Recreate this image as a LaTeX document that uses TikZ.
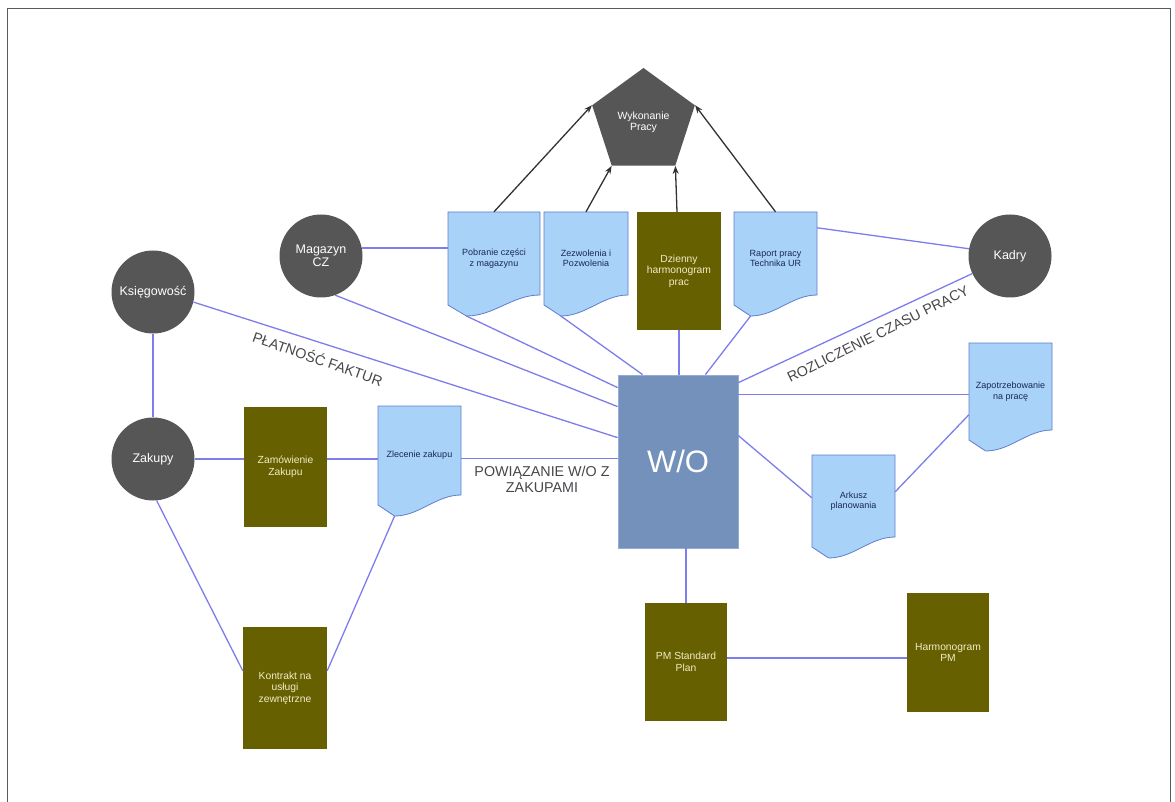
\documentclass[tikz,border=0pt]{standalone}
\usepackage{fontspec}
\setmainfont{Liberation Sans}
\usetikzlibrary{arrows.meta,calc,shapes.geometric}
\definecolor{circgray}{RGB}{86,86,86}
\definecolor{olivefill}{RGB}{103,96,0}
\definecolor{docfill}{RGB}{168,210,248}
\definecolor{docline}{RGB}{95,125,205}
\definecolor{wofill}{RGB}{115,145,186}
\definecolor{woline}{RGB}{150,172,212}
\definecolor{connc}{RGB}{125,125,235}
\definecolor{arrowc}{RGB}{50,50,50}
\definecolor{doctxt}{RGB}{25,40,85}
\definecolor{olivetxt}{RGB}{240,236,200}
\definecolor{labeltxt}{RGB}{70,70,75}
\definecolor{framec}{RGB}{90,90,90}
\tikzset{
  circ/.style={circle, fill=circgray, minimum size=83pt, inner sep=0pt, text=white,
    font=\fontsize{12.5}{13}\selectfont, align=center},
  obox/.style={rectangle, fill=olivefill, text=olivetxt, inner sep=0pt,
    font=\fontsize{10.3}{11.5}\selectfont, align=center},
  docshape/.style={fill=docfill, draw=docline, line width=0.8pt},
  doctext/.style={rectangle, inner sep=0pt, text=doctxt,
    font=\fontsize{9}{10.5}\selectfont, align=center},
  conn/.style={draw=connc, line width=1.3pt},
  arr/.style={draw=arrowc, line width=1.3pt, -{Stealth[length=8pt,width=6pt]}},
  lbl/.style={text=labeltxt, font=\fontsize{14.3}{16}\selectfont, align=center, inner sep=0pt},
}
\newcommand{\docbox}[6]{%
  \draw[docshape] (#2,#3) -- (#4,#3) -- (#4,{#5-10})
    .. controls ({#4-0.3*(#4-#2)},{#5-10}) and ({#2+0.5*(#4-#2)},{#5+11}) ..
    ({#2+0.2*(#4-#2)},{#5+11}) -- (#2,#5) -- cycle;
  \coordinate (#1-low) at ({#2+0.2*(#4-#2)},{#5+11});
  \node[doctext, minimum width={(#4-#2)*1pt}, minimum height={(#5-#3)*1pt}] (#1)
    at ({(#2+#4)/2},{(#3+#5)/2}) {#6};
}
\begin{document}
\begin{tikzpicture}[x=1pt,y=-1pt]
\useasboundingbox (0,0) rectangle (1175,802);
\draw[framec, line width=1pt] (7,802) -- (7,9) -- (1170,9) -- (1170,802);

% pentagon
\node[regular polygon, regular polygon sides=5, minimum size=108pt, inner sep=0pt,
  fill=circgray, text=white, font=\fontsize{10.5}{11}\selectfont, align=center]
  (wyk) at (643.5,122) {Wykonanie\\Pracy};

% documents
\docbox{pob}{448}{212}{540}{305}{Pobranie części\\z magazynu}
\docbox{zez}{544}{212}{628}{305}{Zezwolenia i\\Pozwolenia}
\docbox{rap}{734}{212}{817}{305}{Raport pracy\\Technika UR}
\docbox{zle}{378}{406}{461}{505}{Zlecenie zakupu}
\docbox{zap}{969}{343}{1052}{440}{Zapotrzebowanie\\na pracę}
\docbox{ark}{812}{455}{895}{547}{Arkusz\\planowania}

% olive boxes
\node[obox, minimum width=84pt, minimum height=118pt] (dzi) at (679,271) {Dzienny\\harmonogram\\prac};
\node[obox, minimum width=83pt, minimum height=120pt] (zam) at (285.5,467) {Zamówienie\\Zakupu};
\node[obox, minimum width=84pt, minimum height=122pt] (kon) at (285,688) {Kontrakt na\\usługi\\zewnętrzne};
\node[obox, minimum width=82pt, minimum height=118pt] (pms) at (686,662) {PM Standard\\Plan};
\node[obox, minimum width=82pt, minimum height=119pt] (har) at (948,652.5) {Harmonogram\\PM};

% circles
\node[circ] (mag) at (321,256) {Magazyn\\CZ};
\node[circ] (ks) at (153,292) {Księgowość};
\node[circ] (zak) at (153,459) {Zakupy};
\node[circ] (kad) at (1010,256) {Kadry};

% W/O
\node[rectangle, fill=wofill, draw=woline, line width=0.8pt, minimum width=120pt,
  minimum height=173pt, inner sep=0pt, text=white, font=\fontsize{31}{33}\selectfont]
  (wo) at (678,461.5) {W/O};

% arrows to pentagon
\draw[arr] (pob.north) -- (wyk.corner 2);
\draw[arr] (zez.north) -- (wyk.corner 3);
\draw[arr] ([xshift=-2pt]dzi.north) -- (wyk.corner 4);
\draw[arr] (rap.north) -- (wyk.corner 5);

% connectors
\draw[conn] (mag.11) -- (mag.11 -| pob.west);
\draw[conn] (mag.-70) -- ([yshift=-32pt]wo.north west);
\draw[conn] (ks.-14) -- ([yshift=-63pt]wo.north west);
\draw[conn] (pob-low) -- ([yshift=-13pt]wo.north west);
\draw[conn] (zez-low) -- ([xshift=25pt]wo.north west);
\draw[conn] (dzi.south) -- (dzi.south |- wo.north);
\draw[conn] (rap-low) -- ([xshift=-33pt]wo.north east);
\draw[conn] ([yshift=-16pt]rap.north east) -- (kad.170);
\draw[conn] (kad.205) -- ([yshift=-8pt]wo.north east);
\draw[conn] ([yshift=-20pt]wo.north east) -- ([yshift=-20pt]wo.north east -| zap.west);
\draw[conn] ([yshift=-61pt]wo.north east) -- ([yshift=-43pt]ark.north west);
\draw[conn] ([yshift=-37pt]ark.north east) -- ([yshift=-72pt]zap.north west);
\draw[conn] ([yshift=-53pt]zle.north east) -- ([yshift=-53pt]zle.north east -| wo.west);
\draw[conn] (zak.east) -- (zak.east -| zam.west);
\draw[conn] (zak.east -| zam.east) -- (zak.east -| zle.west);
\draw[conn] (ks.south) -- (zak.north);
\draw[conn] (zak.-85) -- ([yshift=-44pt]kon.north west);
\draw[conn] (zle-low) -- ([yshift=-44pt]kon.north east);
\draw[conn] (pms.north |- wo.south) -- (pms.north);
\draw[conn] ([yshift=4pt]pms.east) -- ([yshift=4pt]pms.east -| har.west);

% labels
\node[lbl, rotate=-19.3] (lplat) at (318,358) {PŁATNOŚĆ FAKTUR};
\node[lbl, rotate=26.3] (lrozl) at (878,334) {ROZLICZENIE CZASU PRACY};
\node[lbl] (lpow) at (542,479) {POWIĄZANIE W/O Z\\ZAKUPAMI};
\end{tikzpicture}
\end{document}
